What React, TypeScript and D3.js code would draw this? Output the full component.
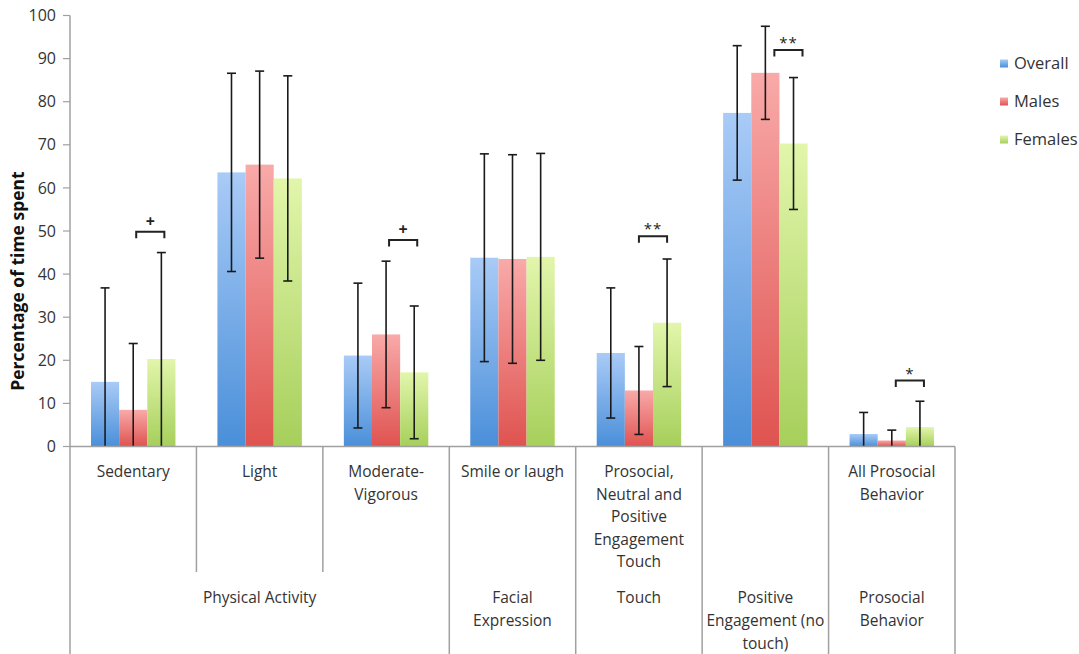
import React from "react";
import * as d3 from "d3";

const categories = ["Sedentary", "Light", "Moderate-Vigorous", "Smile or laugh", "Prosocial, Neutral and Positive Engagement Touch", "Positive Engagement (no touch)", "All Prosocial Behavior"];
const categoryLines = [["Sedentary"], ["Light"], ["Moderate-", "Vigorous"], ["Smile or laugh"], ["Prosocial,", "Neutral and", "Positive", "Engagement", "Touch"], [], ["All Prosocial", "Behavior"]];
const groupLines = [["Physical Activity"], ["Facial", "Expression"], ["Touch"], ["Positive", "Engagement (no", "touch)"], ["Prosocial", "Behavior"]];
const groupSpans = [3, 1, 1, 1, 1];

const seriesNames = ["Overall", "Males", "Females"];
const overall = [15.0, 63.6, 21.1, 43.8, 21.7, 77.4, 2.9];
const overallErr = [21.8, 23.0, 16.8, 24.1, 15.1, 15.6, 5.0];
const males = [8.5, 65.4, 26.0, 43.5, 13.0, 86.7, 1.4];
const malesErr = [15.4, 21.7, 17.0, 24.2, 10.2, 10.8, 2.4];
const females = [20.3, 62.2, 17.2, 44.0, 28.7, 70.3, 4.5];
const femalesErr = [24.7, 23.8, 15.4, 24.0, 14.8, 15.3, 6.0];

const yTicks = [0, 10, 20, 30, 40, 50, 60, 70, 80, 90, 100];

const sigCategory = [0, 2, 4, 5, 6];
const sigLabels = ["+", "+", "**", "**", "*"];
const sigLevels = [49.8, 47.9, 48.8, 92.0, 15.3];
const sigShift = [3, 3, 0, 9, 4];

const seriesValues = [overall, males, females];
const seriesErrors = [overallErr, malesErr, femalesErr];
const gradTop = ["#a9cbf7", "#f8aaa9", "#e2f6ab"];
const gradBottom = ["#4a8fd9", "#df5350", "#a6cf5b"];

const FONT = "'Open Sans', 'DejaVu Sans', sans-serif";

export default function App() {
  const W = 1079, H = 654;
  const x = d3.scaleBand<string>().domain(categories).range([70, 955]).paddingInner(0).paddingOuter(0);
  const bw = x.bandwidth();
  const inner = d3.scaleBand<string>().domain(seriesNames).range([bw * 0.166, bw * 0.834]);
  const y = d3.scaleLinear().domain([0, 100]).range([446.5, 15.5]);
  const y0 = y(0);
  const textColor = "#333";
  const axisColor = "#a0a0a0";

  let acc = 0;
  const groups = groupSpans.map((s, i) => {
    const start = acc;
    acc += s;
    return { start, end: acc, lines: groupLines[i] };
  });
  const groupBoundaryIdx = new Set(groups.map((g) => g.end));

  return (
    <svg width={W} height={H} style={{ position: "absolute", left: 0, top: 0, background: "#fff" }} fontFamily={FONT}>
      <defs>
        {seriesNames.map((s, i) => (
          <linearGradient key={s} id={`g${i}`} x1="0" y1="0" x2="0" y2="1">
            <stop offset="0%" stopColor={gradTop[i]} />
            <stop offset="100%" stopColor={gradBottom[i]} />
          </linearGradient>
        ))}
      </defs>

      {categories.map((c, ci) => (
        <g key={c} transform={`translate(${x(c)},0)`}>
          {seriesNames.map((s, si) => {
            const v = seriesValues[si][ci];
            return (
              <rect key={s} x={inner(s)} y={y(v)} width={inner.bandwidth()} height={y0 - y(v)} fill={`url(#g${si})`} />
            );
          })}
        </g>
      ))}

      {categories.map((c, ci) => (
        <g key={c + "e"} transform={`translate(${x(c)},0)`}>
          {seriesNames.map((s, si) => {
            const v = seriesValues[si][ci];
            const e = seriesErrors[si][ci];
            const cx = (inner(s) as number) + inner.bandwidth() / 2;
            const hi = v + e;
            const lo = Math.max(0, v - e);
            return (
              <g key={s} stroke="#1a1a1a" strokeWidth={1.6}>
                <line x1={cx} x2={cx} y1={y(hi)} y2={y(lo)} />
                <line x1={cx - 4.5} x2={cx + 4.5} y1={y(hi)} y2={y(hi)} />
                {v - e > 0 && <line x1={cx - 4.5} x2={cx + 4.5} y1={y(lo)} y2={y(lo)} />}
              </g>
            );
          })}
        </g>
      ))}

      {sigCategory.map((ci, k) => {
        const c = categories[ci];
        const x0 = (x(c) as number) + (inner("Males") as number) + inner.bandwidth() / 2 + sigShift[k];
        const x1 = (x(c) as number) + (inner("Females") as number) + inner.bandwidth() / 2 + sigShift[k];
        const yy = y(sigLevels[k]);
        const plus = sigLabels[k] === "+";
        return (
          <g key={"sig" + k}>
            <path d={`M${x0},${yy + 6.5} L${x0},${yy} L${x1},${yy} L${x1},${yy + 6.5}`} fill="none" stroke="#222" strokeWidth={2} />
            <text x={(x0 + x1) / 2} y={yy - (plus ? 5 : 2)} textAnchor="middle" fontSize={plus ? 16 : 15} fontWeight={plus ? "bold" : "normal"} letterSpacing={plus ? 0 : 1} fill="#222">
              {sigLabels[k]}
            </text>
          </g>
        );
      })}

      <line x1={70} x2={70} y1={y(100)} y2={654} stroke={axisColor} strokeWidth={1.5} />
      {yTicks.map((t) => (
        <g key={t}>
          <line x1={63} x2={70} y1={y(t)} y2={y(t)} stroke={axisColor} strokeWidth={1.2} />
          <text x={56} y={y(t)} dy="0.35em" textAnchor="end" fontSize={16} fill={textColor}>
            {t}
          </text>
        </g>
      ))}
      <text transform={`translate(24,${281}) rotate(-90)`} textAnchor="middle" fontSize={17.5} fontWeight="bold" fill="#111">
        Percentage of time spent
      </text>

      <line x1={70} x2={955} y1={y0} y2={y0} stroke={axisColor} strokeWidth={1.5} />
      {categories.map((c, ci) => {
        if (ci === 0) return null;
        const bx = x(c) as number;
        const full = groupBoundaryIdx.has(ci);
        return <line key={c + "sep"} x1={bx} x2={bx} y1={y0} y2={full ? 654 : 572} stroke={axisColor} strokeWidth={1.5} />;
      })}
      <line x1={955} x2={955} y1={y0} y2={654} stroke={axisColor} strokeWidth={1.5} />

      {categories.map((c, ci) => (
        <text key={c + "lbl"} textAnchor="middle" fontSize={15.5} fill={textColor}>
          {categoryLines[ci].map((ln, li) => (
            <tspan key={li} x={(x(c) as number) + bw / 2} y={472 + li * 22.4} dy="0.35em">
              {ln}
            </tspan>
          ))}
        </text>
      ))}

      {groups.map((g, gi) => {
        const gx0 = x(categories[g.start]) as number;
        const gx1 = (x(categories[g.end - 1]) as number) + bw;
        return (
          <text key={"grp" + gi} textAnchor="middle" fontSize={15.5} fill={textColor}>
            {g.lines.map((ln, li) => (
              <tspan key={li} x={(gx0 + gx1) / 2} y={598 + li * 22.8} dy="0.35em">
                {ln}
              </tspan>
            ))}
          </text>
        );
      })}

      {seriesNames.map((s, si) => (
        <g key={s + "leg"} transform={`translate(1000,${63.5 + si * 38})`}>
          <rect x={0} y={-4} width={8} height={8} fill={`url(#g${si})`} />
          <text x={14} y={0} dy="0.35em" fontSize={16.5} fill={textColor}>
            {s}
          </text>
        </g>
      ))}
    </svg>
  );
}
